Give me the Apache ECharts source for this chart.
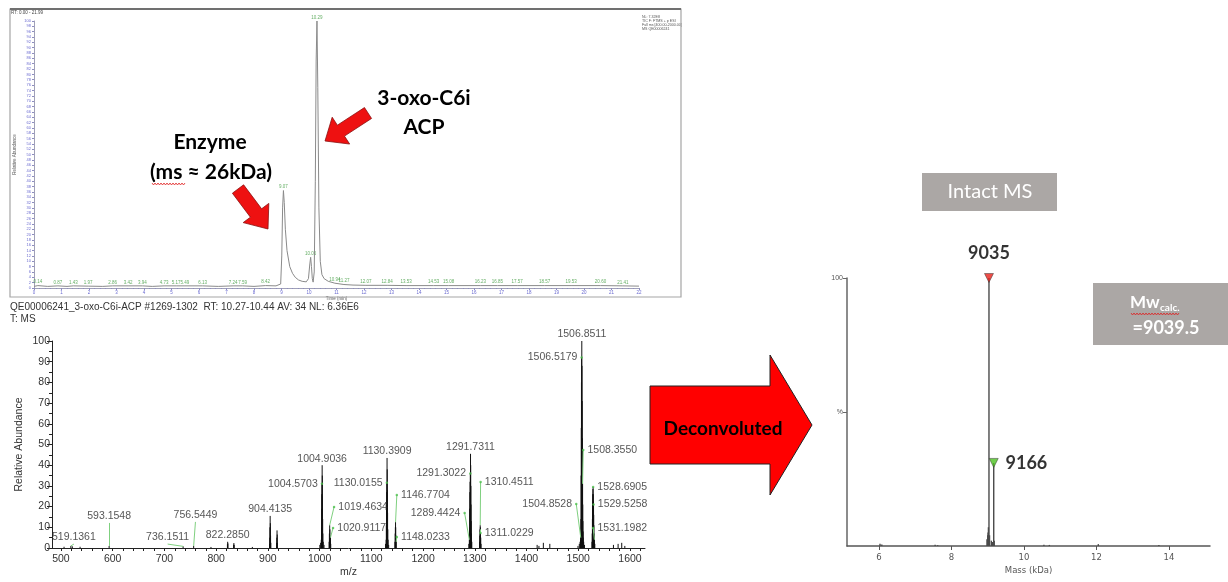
<!DOCTYPE html>
<html><head><meta charset="utf-8">
<script src="https://cdn.jsdelivr.net/npm/echarts@6/dist/echarts.min.js"></script>
<style>html,body{margin:0;padding:0;background:#fff;}#c{width:1228px;height:582px;}</style>
</head><body><div id="c"></div>
<script>
// ---------- Chromatogram (top panel) ----------
const chromTime = [0,0.14,0.5,0.87,1.2,1.43,1.97,2.5,2.86,3.42,3.94,4.3,4.73,5.17,5.49,6.13,6.7,7.24,7.59,8.0,8.42,8.8,8.97,9.01,9.04,9.07,9.1,9.14,9.2,9.3,9.4,9.5,9.62,9.75,9.9,9.98,10.03,10.06,10.09,10.12,10.15,10.19,10.23,10.26,10.29,10.32,10.36,10.41,10.47,10.55,10.7,10.94,11.27,11.6,12.07,12.84,13.53,14.53,15.08,16.23,16.85,17.57,18.57,19.53,20.6,21.41,22];
const chromIntensity = [0.6,0.9,0.6,0.8,0.6,0.8,0.7,0.6,0.8,0.8,0.8,0.6,0.8,0.8,0.8,0.8,0.6,0.8,0.8,0.6,0.9,0.8,1.5,12,30,36.5,32,22,14,8,5.5,4,3,2.5,2.3,3.5,9,11.5,8,3.5,2.2,6,40,85,100,75,30,10,5,3.5,2.5,1.8,1.3,1.1,1.0,1.0,0.9,0.9,0.9,0.9,0.9,0.9,0.9,0.9,0.9,0.8,0.7];
const chromPeakLabels = ['0.14','0.87','1.43','1.97','2.86','3.42','3.94','4.73','5.17','5.49','6.13','7.24','7.59','8.42','9.07','10.06','10.29','10.94','11.27','12.07','12.84','13.53','14.53','15.08','16.23','16.85','17.57','18.57','19.53','20.60','21.41'];
const chromLabelHeight = [0.9,0.8,0.8,0.7,0.8,0.8,0.8,0.8,0.8,0.8,0.8,0.8,0.8,0.9,36.5,11.5,100,1.8,1.3,1.0,1.0,0.9,0.9,0.9,0.9,0.9,0.9,0.9,0.9,0.9,0.8];

// ---------- Mass spectrum (bottom-left panel) ----------
const specMz = [506,519.14,522,537,593.15,736.15,756.54,790,
 821.8,822.29,822.8,833.8,834.3,834.8,870,
 903.3,903.7,904.0,904.41,904.8,905.2,905.7,
 916.9,917.3,917.7,918.1,918.6,
 1000.5,1002.0,1003.2,1003.7,1004.1,1004.35,1004.57,1004.90,1005.2,1005.5,1005.9,1006.3,1007.0,1008.5,
 1018.4,1018.9,1019.46,1019.9,1020.4,1020.91,1021.5,
 1127.5,1128.6,1129.0,1129.4,1129.7,1130.02,1130.39,1130.7,1131.0,1131.4,1131.8,1132.4,1133.5,
 1145.6,1146.1,1146.45,1146.77,1147.1,1147.5,1148.02,
 1288.5,1289.44,1289.9,1290.2,1290.5,1290.85,1291.30,1291.73,1292.05,1292.4,1292.7,1293.1,1293.5,1294.2,
 1309.3,1309.7,1310.1,1310.45,1310.75,1311.02,1311.5,1312.1,
 1420.5,1424,1432.5,1445,
 1499.5,1502,1503.5,1504.4,1504.85,1505.18,1505.52,1505.85,1506.18,1506.52,1506.85,1507.18,1507.52,1507.85,1508.18,1508.36,1508.68,1509.02,1509.35,1509.7,1510.5,1512,
 1526.5,1527.0,1527.35,1527.69,1528.02,1528.35,1528.69,1529.02,1529.36,1529.53,1529.86,1530.19,1530.53,1531.2,1532,
 1568,1577,1584,1590];
const specInt = [0.6,1.0,0.8,0.6,1.0,0.8,1.0,0.5,
 1.8,3.0,2.2,1.6,2.4,1.5,0.5,
 2,5,10,15.5,12,6,2.5,
 2.5,5,8.5,6.5,2.5,
 1.5,2.5,4,10,19,26,31,40,35,25,14,7,3,1.5,
 3,7,11,9,6,5,2,
 2,4,11,21,27,31.5,43.5,38,28,17,9,4,1.5,
 3,7,10,12.5,10,6,3,
 2,4,10,19,27,32,36,45.5,40,30,21,13,7,3,
 3,6,9,11,10,9,5,2,
 1.5,1,2.5,2,
 1,2,3,4,5,14,35,58,80,92,100,88,71,53,37,31,21,13,8,5,3,1.5,
 3,7,14,21,26,28.5,29.5,26,22.5,21,16,11,7,4,2,
 1.5,2,2.5,1];
// labelled peaks: text (= m/z), peak height (%), label side
const specLabelText = ['519.1361','593.1548','736.1511','756.5449','822.2850','904.4135','1004.9036','1004.5703','1019.4634','1020.9117','1130.3909','1130.0155','1146.7704','1148.0233','1289.4424','1291.3022','1291.7311','1310.4511','1311.0229','1504.8528','1506.5179','1506.8511','1508.3550','1528.6905','1529.5258','1531.1982'];
const specLabelHeight = [1.0,1.0,0.8,1.0,3.0,15.5,40,31,11,5,43.5,31.5,12.5,3,4,36,45.5,11,9,5,92,100,31,29.5,21,4];
const specLabelSide = ['top','top','top','top','top','top','top','left','right','right','top','left','right','right','left','left','top','right','right','left','left','top','right','right','right','right'];
// where each label text is attached (data units); a leader line is drawn when it differs from the peak
const specLabelSpot = [[525.0,1.9],[593.15,12.1],[706.2,1.9],[760.0,12.6],[822.29,3.0],[904.41,15.5],[1004.90,40],[1004.57,31],[1027.9,19.8],[1026.0,9.7],[1130.39,43.5],[1130.02,31.5],[1149.3,25.6],[1149.3,5.3],[1280.3,16.9],[1291.30,36],[1291.73,45.5],[1311.2,31.9],[1311.02,7.2],[1496.1,21.3],[1506.52,92],[1506.85,100],[1509.6,47.3],[1528.69,29.5],[1529.53,21],[1528.9,9.7]];
const specXTickLabels = [500,600,700,800,900,1000,1100,1200,1300,1400,1500,1600];
const specXTicks = [500,520,540,560,580,600,620,640,660,680,700,720,740,760,780,800,820,840,860,880,900,920,940,960,980,1000,1020,1040,1060,1080,1100,1120,1140,1160,1180,1200,1220,1240,1260,1280,1300,1320,1340,1360,1380,1400,1420,1440,1460,1480,1500,1520,1540,1560,1580,1600,1620];

// ---------- Deconvoluted spectrum (right panel) ----------
const deconvMass = [6.03,6.08,7.55,7.62,8.98,9.0,9.01,9.02,9.035,9.05,9.1,9.13,9.166,9.18,10.55,10.7,12.05,13.72];
const deconvInt  = [0.8,0.6,0.5,0.3,2.5,4,5,7,100,4,2,1.5,31,2,0.5,0.4,0.7,0.4];
const deconvPeakDa = [9035, 9166];
const deconvPeakHeight = [100, 31];
const deconvXTicks = [6,8,10,12,14];

// ---------- helpers ----------
function stickRenderer(color, width) {
  return function (params, api) {
    const x = api.value(0), h = api.value(1);
    const a = api.coord([x, 0]), b = api.coord([x, h]);
    return {type: 'line', shape: {x1: a[0], y1: a[1], x2: b[0], y2: b[1]}, style: {stroke: color, lineWidth: width}};
  };
}
function blockArrow(x1, y1, x2, y2, sw, hw, hl) {
  const dx = x2 - x1, dy = y2 - y1, L = Math.hypot(dx, dy);
  const ux = dx / L, uy = dy / L, nx = -uy, ny = ux;
  const bx = x2 - ux * hl, by = y2 - uy * hl;
  return [[x1 + nx * sw / 2, y1 + ny * sw / 2], [bx + nx * sw / 2, by + ny * sw / 2], [bx + nx * hw / 2, by + ny * hw / 2],
          [x2, y2], [bx - nx * hw / 2, by - ny * hw / 2], [bx - nx * sw / 2, by - ny * sw / 2], [x1 - nx * sw / 2, y1 - ny * sw / 2]];
}
function squiggle(x0, x1, y) {
  const pts = []; let k = 0;
  for (let x = x0; x <= x1; x += 1.5) { pts.push([x, y + (k % 2 ? 1 : -1)]); k++; }
  return {type: 'polyline', shape: {points: pts}, style: {stroke: '#e02020', lineWidth: 0.8, fill: null}, z: 20};
}

const chromData = chromTime.map((t, i) => [t, chromIntensity[i]]);
const chromLabelData = chromPeakLabels.map((t, i) => ({value: [Number(t), chromLabelHeight[i]], name: t}));
const specData = specMz.map((m, i) => [m, specInt[i]]);
const specLabelData = specLabelText.map((t, i) => ({
  value: specLabelSpot[i], name: t,
  symbolSize: specLabelSide[i] === 'top' ? 0 : 2.5,
  label: {position: specLabelSide[i], distance: specLabelSide[i] === 'top' ? 1 : 3}
}));
const leaderData = [];
specLabelText.forEach((t, i) => {
  const pm = Number(t), ph = specLabelHeight[i], s = specLabelSpot[i];
  if (Math.abs(s[0] - pm) > 0.01 || Math.abs(s[1] - ph) > 0.01) leaderData.push({coords: [[s[0], s[1]], [pm, ph]]});
});
const deconvData = deconvMass.map((m, i) => [m, deconvInt[i]]);
const deconvMarkerData = deconvPeakDa.map((d, i) => ({
  value: [d / 1000, deconvPeakHeight[i]], name: String(d),
  itemStyle: {color: i === 0 ? '#e8201a' : '#4cc21f', borderColor: '#333', borderWidth: 0.6},
  label: i === 0 ? {position: 'top', distance: 11} : {position: 'right', distance: 7}
}));

const blueAx = '#8d8dc0';
const txtFont = 'Liberation Sans, Arial';
const option = {
  animation: false,
  backgroundColor: '#ffffff',
  grid: [
    {left: 34, top: 21, width: 605, height: 267},
    {left: 52, top: 341, width: 593, height: 207},
    {left: 847, top: 278, width: 363, height: 268}
  ],
  xAxis: [
    {gridIndex: 0, type: 'value', min: 0, max: 22, interval: 1,
     axisLine: {lineStyle: {color: '#a0a0b8', width: 1}},
     axisTick: {length: 2, lineStyle: {color: blueAx}},
     minorTick: {show: true, splitNumber: 5, length: 1, lineStyle: {color: blueAx}},
     axisLabel: {fontSize: 4.5, color: '#6a6ad0', margin: 2},
     splitLine: {show: false},
     name: 'Time (min)', nameLocation: 'middle', nameGap: 7, nameTextStyle: {fontSize: 4.5, color: '#555'}},
    {gridIndex: 1, type: 'value', min: 482.7, max: 1629,
     axisLine: {lineStyle: {color: '#222', width: 1}},
     axisTick: {customValues: specXTicks, length: 3, lineStyle: {color: '#222'}},
     axisLabel: {customValues: specXTickLabels, fontSize: 10.5, color: '#333', margin: 6, fontFamily: txtFont, formatter: v => String(v)},
     splitLine: {show: false},
     name: 'm/z', nameLocation: 'middle', nameGap: 19, nameTextStyle: {fontSize: 10.5, color: '#333', fontFamily: txtFont}},
    {gridIndex: 2, type: 'value', min: 5.12, max: 15.13,
     axisLine: {lineStyle: {color: '#555', width: 1.5}},
     axisTick: {customValues: deconvXTicks, length: 4, lineStyle: {color: '#555'}},
     axisLabel: {customValues: deconvXTicks, fontSize: 8.5, color: '#555', margin: 7, fontFamily: 'DejaVu Sans'},
     splitLine: {show: false},
     name: 'Mass (kDa)', nameLocation: 'middle', nameGap: 20, nameTextStyle: {fontSize: 8.5, color: '#555', fontFamily: 'DejaVu Sans'}}
  ],
  yAxis: [
    {gridIndex: 0, type: 'value', min: 0, max: 100, interval: 2,
     axisLine: {show: true, lineStyle: {color: '#a0a0b8', width: 1}},
     axisTick: {show: true, length: 2, lineStyle: {color: blueAx}},
     axisLabel: {fontSize: 4, color: '#6a6ad0', margin: 3},
     splitLine: {show: false},
     name: 'Relative Abundance', nameLocation: 'middle', nameGap: 17, nameTextStyle: {fontSize: 4.5, color: '#555'}},
    {gridIndex: 1, type: 'value', min: 0, max: 100, interval: 10,
     axisLine: {show: true, lineStyle: {color: '#222', width: 1}},
     axisTick: {show: true, length: 5, lineStyle: {color: '#222'}},
     minorTick: {show: true, splitNumber: 2, length: 3, lineStyle: {color: '#222'}},
     axisLabel: {fontSize: 10.5, color: '#333', margin: 2, fontFamily: txtFont},
     splitLine: {show: false},
     name: 'Relative Abundance', nameLocation: 'middle', nameGap: 27, nameTextStyle: {fontSize: 10.5, color: '#333', fontFamily: txtFont}},
    {gridIndex: 2, type: 'value', min: 0, max: 100,
     axisLine: {show: true, lineStyle: {color: '#666', width: 1.5}},
     axisTick: {show: true, customValues: [50, 100], length: 4, lineStyle: {color: '#666'}},
     axisLabel: {customValues: [50, 100], fontSize: 7, color: '#555', margin: 4, formatter: v => (v === 50 ? '%' : String(v))},
     splitLine: {show: false}}
  ],
  series: [
    {type: 'line', xAxisIndex: 0, yAxisIndex: 0, data: chromData, showSymbol: false, symbol: 'none',
     lineStyle: {color: '#8a8a8a', width: 1}, z: 3},
    {type: 'scatter', xAxisIndex: 0, yAxisIndex: 0, data: chromLabelData, symbolSize: 0, clip: false,
     label: {show: true, position: 'top', distance: 1, formatter: '{b}', fontSize: 4.5, color: '#3c9a3c'}},
    {type: 'custom', xAxisIndex: 1, yAxisIndex: 1, data: specData, encode: {x: 0, y: 1},
     renderItem: stickRenderer('#111', 1), z: 3},
    {type: 'lines', coordinateSystem: 'cartesian2d', xAxisIndex: 1, yAxisIndex: 1, data: leaderData,
     lineStyle: {color: '#7fd07f', width: 1, opacity: 1}, z: 4},
    {type: 'scatter', xAxisIndex: 1, yAxisIndex: 1, data: specLabelData, clip: false,
     itemStyle: {color: '#4cbf4c'},
     label: {show: true, formatter: '{b}', fontSize: 10.5, color: '#2a2a2a', fontFamily: txtFont}, z: 5},
    {type: 'custom', xAxisIndex: 2, yAxisIndex: 2, data: deconvData, encode: {x: 0, y: 1},
     renderItem: stickRenderer('#4a4a4a', 1.4), z: 3},
    {type: 'scatter', xAxisIndex: 2, yAxisIndex: 2, data: deconvMarkerData, clip: false,
     symbol: 'triangle', symbolRotate: 180, symbolSize: 9,
     label: {show: true, formatter: '{b}', fontSize: 18, fontWeight: 'bold', color: '#000', fontFamily: 'Lato'}, z: 6}
  ],
  graphic: [
    // top panel frame
    {type: 'rect', shape: {x: 10, y: 9, width: 671, height: 288}, style: {fill: null, stroke: '#a5a5a5', lineWidth: 1.2}, z: 1},
    {type: 'line', shape: {x1: 10, y1: 9, x2: 681, y2: 9}, style: {stroke: '#707070', lineWidth: 2}, z: 2},
    {type: 'text', x: 11, y: 10, style: {text: 'RT: 0.00 - 21.99', fontSize: 4.5, fill: '#444'}},
    {type: 'text', x: 642, y: 15, style: {text: 'NL: 7.32E8\nTIC F: FTMS + p ESI\nFull ms [400.00-2000.00]\nMS QE00006241', fontSize: 3.6, lineHeight: 4, fill: '#555'}},
    // annotations on chromatogram
    {type: 'text', x: 210, y: 142, style: {text: 'Enzyme', fontSize: 21, fontWeight: 'bold', fontFamily: 'Lato', fill: '#000', align: 'center', verticalAlign: 'middle'}, z: 10},
    {type: 'text', x: 211, y: 172, style: {text: '(ms \u2248 26kDa)', fontSize: 21, fontWeight: 'bold', fontFamily: 'Lato', fill: '#000', align: 'center', verticalAlign: 'middle'}, z: 10},
    squiggle(152, 186, 184),
    {type: 'text', x: 424, y: 98, style: {text: '3-oxo-C6i', fontSize: 21, fontWeight: 'bold', fontFamily: 'Lato', fill: '#000', align: 'center', verticalAlign: 'middle'}, z: 10},
    {type: 'text', x: 424, y: 127, style: {text: 'ACP', fontSize: 21, fontWeight: 'bold', fontFamily: 'Lato', fill: '#000', align: 'center', verticalAlign: 'middle'}, z: 10},
    {type: 'polygon', shape: {points: blockArrow(238, 189, 268, 229, 14, 32, 20)}, style: {fill: '#ee1111', stroke: '#8a1010', lineWidth: 0.8}, z: 10},
    {type: 'polygon', shape: {points: blockArrow(368, 113, 325, 141, 13, 32, 19)}, style: {fill: '#ee1111', stroke: '#8a1010', lineWidth: 0.8}, z: 10},
    // header of mass spectrum
    {type: 'text', x: 10, y: 307, style: {text: 'QE00006241_3-oxo-C6i-ACP #1269-1302  RT: 10.27-10.44 AV: 34 NL: 6.36E6', fontSize: 10, fontFamily: txtFont, fill: '#333', verticalAlign: 'middle'}},
    {type: 'text', x: 10, y: 319, style: {text: 'T: MS', fontSize: 10, fontFamily: txtFont, fill: '#333', verticalAlign: 'middle'}},
    // big arrow
    {type: 'polygon', shape: {points: [[650, 386], [770, 386], [770, 355], [812, 425], [770, 495], [770, 464], [650, 464]]}, style: {fill: '#ff0000', stroke: '#222', lineWidth: 1}, z: 10},
    {type: 'text', x: 723, y: 429, style: {text: 'Deconvoluted', fontSize: 19, fontWeight: 'bold', fontFamily: 'Lato', fill: '#000', align: 'center', verticalAlign: 'middle'}, z: 11},
    // Intact MS box
    {type: 'rect', shape: {x: 922, y: 173, width: 135, height: 38}, style: {fill: '#aba7a5'}, z: 10},
    {type: 'text', x: 990, y: 192, style: {text: 'Intact MS', fontSize: 20, fontFamily: 'Lato', fill: '#ffffff', align: 'center', verticalAlign: 'middle'}, z: 11},
    // Mw box
    {type: 'rect', shape: {x: 1093, y: 283, width: 135, height: 62}, style: {fill: '#aba7a5'}, z: 10},
    {type: 'text', x: 1130, y: 303, style: {text: 'Mw', fontSize: 17, fontWeight: 'bold', fontFamily: 'Lato', fill: '#ffffff', verticalAlign: 'middle'}, z: 11},
    {type: 'text', x: 1160, y: 308, style: {text: 'calc.', fontSize: 10, fontWeight: 'bold', fontFamily: 'Lato', fill: '#ffffff', verticalAlign: 'middle'}, z: 11},
    {type: 'text', x: 1166, y: 328, style: {text: '=9039.5', fontSize: 18, fontWeight: 'bold', fontFamily: 'Lato', fill: '#ffffff', align: 'center', verticalAlign: 'middle'}, z: 11},
    squiggle(1131, 1180, 314)
  ]
};
const chart = echarts.init(document.getElementById('c'));
chart.setOption(option);
</script></body></html>
